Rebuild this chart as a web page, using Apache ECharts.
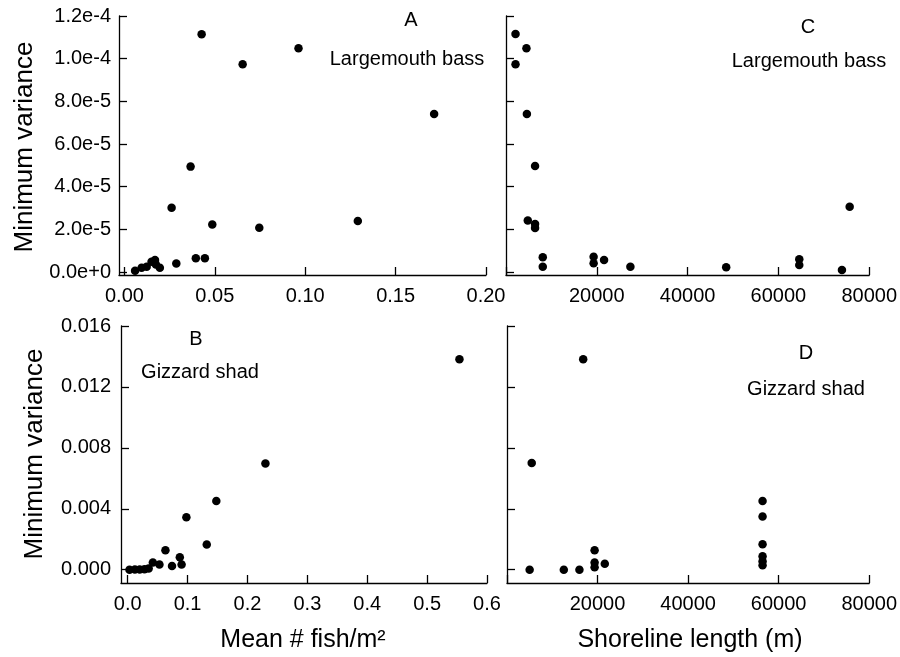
<!DOCTYPE html>
<html><head><meta charset="utf-8">
<script src="https://cdn.jsdelivr.net/npm/echarts@6/dist/echarts.min.js"></script>
<style>html,body{margin:0;padding:0;background:#fff}#c{width:900px;height:657px}</style>
</head><body><div id="c"></div>
<script>
// Panel A: Largemouth bass, mean density vs minimum variance
const bassDensityA = [0.0059,0.0095,0.0123,0.0150,0.0169,0.0174,0.0196,0.0261,0.0287,0.0366,0.0395,0.0427,0.0445,0.0486,0.0654,0.0746,0.0963,0.1291,0.1713];
const bassVarA = [0.6e-6,2.0e-6,2.5e-6,4.8e-6,5.6e-6,3.5e-6,2.0e-6,3.01e-5,4.0e-6,4.94e-5,6.4e-6,1.114e-4,6.4e-6,2.23e-5,9.74e-5,2.08e-5,1.049e-4,2.39e-5,7.41e-5];
// Panel C: Largemouth bass, shoreline length vs minimum variance
const bassShoreC = [2100,4500,2100,4600,6400,4800,6400,6400,8100,8100,19300,19300,21600,27400,48500,64600,64600,74000,75700];
const bassVarC = [1.116e-4,1.049e-4,9.74e-5,7.41e-5,4.97e-5,2.41e-5,2.25e-5,2.06e-5,6.9e-6,2.5e-6,7.2e-6,4.1e-6,5.6e-6,2.5e-6,2.2e-6,6.0e-6,3.3e-6,0.9e-6,3.06e-5];
// Panel B: Gizzard shad, mean density vs minimum variance
const shadDensityB = [0.003,0.012,0.020,0.028,0.035,0.042,0.053,0.063,0.074,0.087,0.090,0.098,0.132,0.148,0.230,0.554];
const shadVarB = [0.00000,0.00002,0.00002,0.00003,0.00009,0.00047,0.00034,0.00128,0.00024,0.00082,0.00034,0.00345,0.00166,0.00452,0.00698,0.01381];
// Panel D: Gizzard shad, shoreline length vs minimum variance
const shadShoreD = [5000,5460,12550,16000,16830,19350,19350,19350,21600,56450,56450,56450,56450,56450,56450];
const shadVarD = [0.00000,0.00700,0.00000,0.00000,0.01381,0.00128,0.00047,0.00016,0.00040,0.00452,0.00350,0.00168,0.00088,0.00055,0.00030];

// Tick values
const bassVarTicks = [0, 2e-5, 4e-5, 6e-5, 8e-5, 1e-4, 1.2e-4];
const densityTicksA = [0, 0.05, 0.10, 0.15, 0.20];
const shadVarTicks = [0, 0.004, 0.008, 0.012, 0.016];
const densityTicksB = [0, 0.1, 0.2, 0.3, 0.4, 0.5, 0.6];
const shoreTicks = [0, 20000, 40000, 60000, 80000];
const shoreLabels = [20000, 40000, 60000, 80000];

const FONT = 'Liberation Sans, Arial, Helvetica, sans-serif';
const black = '#000';

function axis(idx, min, max, ticks, labels, fmt, margin) {
  return {
    type: 'value', gridIndex: idx, min: min, max: max,
    axisLine: {show: true, onZero: false, lineStyle: {color: black, width: 1.3}},
    axisTick: {show: true, inside: true, length: 8, customValues: ticks, lineStyle: {color: black, width: 1.3}},
    splitLine: {show: false},
    axisLabel: {show: labels !== null, customValues: labels || [], formatter: fmt,
      color: black, fontSize: 20, fontFamily: FONT, margin: margin}
  };
}
const pairs = (xs, ys) => xs.map((x, i) => [x, ys[i]]);

const chart = echarts.init(document.getElementById('c'), null, {renderer: 'canvas'});
const txt = (x, y, s, size, rot) => ({
  type: 'text', x: x, y: y, rotation: rot || 0,
  style: {text: s, fill: black, font: size + 'px ' + FONT, textAlign: 'center', textVerticalAlign: 'middle'}
});
const series = (idx, data) => ({
  type: 'scatter', xAxisIndex: idx, yAxisIndex: idx, data: data,
  symbol: 'circle', symbolSize: 8.5, itemStyle: {color: black, opacity: 1}, silent: true
});

chart.setOption({
  animation: false,
  backgroundColor: '#fff',
  grid: [
    {left: 119, top: 16, width: 367, height: 259},
    {left: 506, top: 16, width: 366, height: 259},
    {left: 121, top: 326, width: 366, height: 257},
    {left: 507, top: 326, width: 365, height: 257}
  ],
  xAxis: [
    axis(0, -0.003, 0.2, densityTicksA, densityTicksA, v => v.toFixed(2), 11),
    axis(1, 0, 80000, shoreTicks, shoreLabels, v => String(v), 11),
    axis(2, -0.0112, 0.6, densityTicksB, densityTicksB, v => v.toFixed(1), 11),
    axis(3, 0, 80000, shoreTicks, shoreLabels, v => String(v), 11)
  ],
  yAxis: [
    axis(0, -1.4e-6, 1.2e-4, bassVarTicks, bassVarTicks, v => v.toExponential(1), 8),
    axis(1, -1.4e-6, 1.2e-4, bassVarTicks, null, null, 8),
    axis(2, -0.00087, 0.016, shadVarTicks, shadVarTicks, v => v.toFixed(3), 10),
    axis(3, -0.00087, 0.016, shadVarTicks, null, null, 8)
  ],
  series: [
    series(0, pairs(bassDensityA, bassVarA)),
    series(1, pairs(bassShoreC, bassVarC)),
    series(2, pairs(shadDensityB, shadVarB)),
    series(3, pairs(shadShoreD, shadVarD))
  ],
  graphic: [
    txt(25, 147, 'Minimum variance', 26, Math.PI / 2),
    txt(35, 454, 'Minimum variance', 26, Math.PI / 2),
    txt(303, 640, 'Mean # fish/m\u00B2', 25),
    txt(690, 640, 'Shoreline length (m)', 25),
    txt(411, 20, 'A', 20),
    txt(407, 59, 'Largemouth bass', 20),
    txt(808, 27, 'C', 20),
    txt(809, 61, 'Largemouth bass', 20),
    txt(196, 339, 'B', 20),
    txt(200, 372, 'Gizzard shad', 20),
    txt(806, 353, 'D', 20),
    txt(806, 389, 'Gizzard shad', 20)
  ]
});
</script></body></html>
